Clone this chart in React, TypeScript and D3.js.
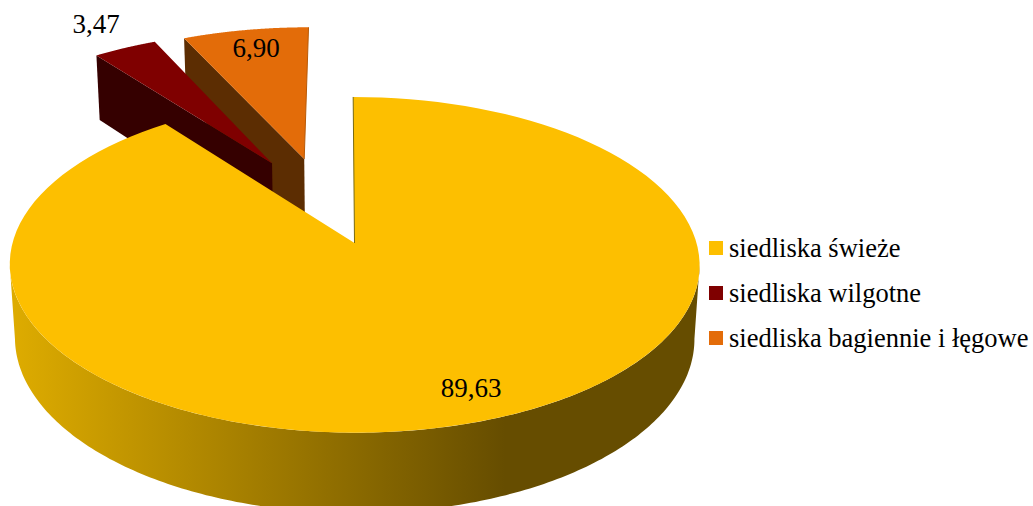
import React from "react";
import * as d3 from "d3";

const categories = ["siedliska świeże", "siedliska wilgotne", "siedliska bagiennie i łęgowe"];
const shares = [89.63, 3.47, 6.9];
const valueLabels = ["89,63", "3,47", "6,90"];
const topColors = ["#FDBF00", "#7F0000", "#E36C09"];
const sideColors = ["url(#rimShade)", "#350000", "#5C2D02"];

const WIDTH = 1033;
const HEIGHT = 506;

// Perspective model of the disc: unit circle in a tilted plane.
const CX = 354.5;
const CY = 243;
const RX = 342;
const RY = 165;
const DEPTH_K = 0.13;
const SHEAR = 1.5;
const THICK = 74;
const THICK_W = 0.015;

// Displacement and radius of each slice, in disc units.
const pull: [number, number][] = [
  [0, 0],
  [-0.255, 0.515],
  [-0.155, 0.545],
];
const radii = [1, 1.03, 1.03];

const labelPos: [number, number][] = [
  [471, 397],
  [96, 33],
  [256, 57],
];
const LEGEND_X = 709;
const LEGEND_ROWS = [241, 286, 331];
const FONT = "'Liberation Serif', 'Times New Roman', serif";

function project(x: number, y: number, lower: boolean): [number, number] {
  const w = 1 + DEPTH_K * y + (lower ? THICK_W : 0);
  return [
    CX + (RX * x - SHEAR * y) / w,
    CY + (-RY * y + (lower ? THICK : 0)) / w,
  ];
}

const onRim = (a: number, i: number, lower = false) =>
  project(radii[i] * Math.sin(a) + pull[i][0], radii[i] * Math.cos(a) + pull[i][1], lower);

const pathOf = d3.line();
const steps = (a0: number, a1: number, n = 120) =>
  d3.range(n + 1).map((k) => a0 + ((a1 - a0) * k) / n);

const arcs = d3.pie<number>().sort(null)(shares);

function topFace(i: number): string {
  const { startAngle, endAngle } = arcs[i];
  const rim = steps(startAngle, endAngle).map((a) => onRim(a, i));
  return pathOf([project(pull[i][0], pull[i][1], false), ...rim])! + "Z";
}

// Radial wall seen along the slice's starting edge.
function radialWall(i: number): string {
  const a = arcs[i].startAngle;
  return (
    pathOf([
      project(pull[i][0], pull[i][1], false),
      onRim(a, i),
      onRim(a, i, true),
      project(pull[i][0], pull[i][1], true),
    ])! + "Z"
  );
}

// Curved outer wall between the two silhouette tangents of the disc.
function frontWall(): string {
  const tangent = Math.acos(-DEPTH_K);
  const angles = steps(tangent, 2 * Math.PI - tangent, 200);
  const upper = angles.map((a) => onRim(a, 0));
  const lower = angles.map((a) => onRim(a, 0, true)).reverse();
  return pathOf([...upper, ...lower])! + "Z";
}

export default function App() {
  const apex = project(0, 0, false);
  const top = onRim(0, 0);
  const orangeApex = project(pull[2][0], pull[2][1], false);
  const orangeEdge = onRim(arcs[2].endAngle, 2);
  return (
    <svg
      width={WIDTH}
      height={HEIGHT}
      style={{ position: "absolute", left: 0, top: 0, display: "block", background: "#fff" }}
    >
      <defs>
        <linearGradient id="rimShade" gradientUnits="userSpaceOnUse" x1={11} x2={505} y1={0} y2={0}>
          <stop offset="0" stopColor="#DEAC00" />
          <stop offset="1" stopColor="#664D00" />
        </linearGradient>
      </defs>

      <path d={radialWall(2)} fill={sideColors[2]} />
      <path d={topFace(2)} fill={topColors[2]} />
      <path d={pathOf([orangeApex, orangeEdge])!} stroke="#B85A08" strokeWidth={1} fill="none" />
      <path d={radialWall(1)} fill={sideColors[1]} />
      <path d={topFace(1)} fill={topColors[1]} />
      <path d={frontWall()} fill={sideColors[0]} />
      <path d={topFace(0)} fill={topColors[0]} />
      <path d={pathOf([top, apex])!} stroke="#7A6A10" strokeWidth={1} fill="none" />

      <g fontFamily={FONT} fontSize={27} fill="#000" textAnchor="middle">
        {valueLabels.map((t, i) => (
          <text key={t} x={labelPos[i][0]} y={labelPos[i][1]}>
            {t}
          </text>
        ))}
      </g>

      <g fontFamily={FONT} fontSize={26.5} fill="#000">
        {categories.map((c, i) => (
          <g key={c}>
            <rect x={LEGEND_X} y={LEGEND_ROWS[i]} width={14} height={14} fill={topColors[i]} />
            <text x={LEGEND_X + 20} y={LEGEND_ROWS[i] + 16}>
              {c}
            </text>
          </g>
        ))}
      </g>
    </svg>
  );
}
